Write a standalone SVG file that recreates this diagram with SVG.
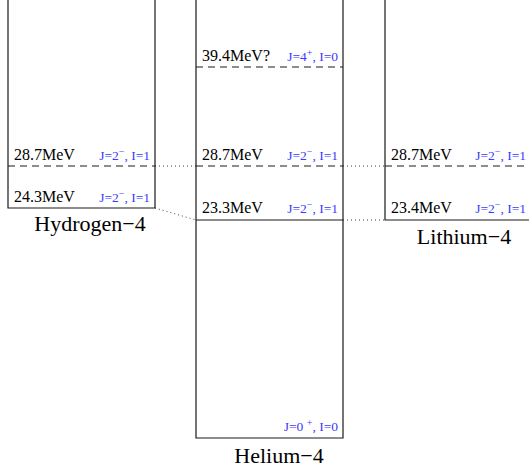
<svg xmlns="http://www.w3.org/2000/svg" width="529" height="468" viewBox="0 0 529 468">
<style>
.box{stroke:#1a1a1a;stroke-width:1.2;fill:none}
.dash{stroke:#1a1a1a;stroke-width:1.2;stroke-dasharray:7 5;fill:none}
.dot{stroke:#444;stroke-width:1;stroke-dasharray:1 3;fill:none}
.e{font-family:"Liberation Serif",serif;font-size:16px;fill:#000}
.q{font-family:"Liberation Serif",serif;font-size:13.5px;fill:#3a3aff;text-anchor:end}
.s{font-size:10px}
.lbl{font-family:"Liberation Serif",serif;font-size:22px;fill:#000;text-anchor:middle}
</style>
<rect width="529" height="468" fill="#fff"/>
<g id="connectors">
<line class="dot" x1="155" y1="166" x2="196" y2="166"/>
<line class="dot" x1="343" y1="166" x2="385" y2="166"/>
<line class="dot" x1="155" y1="208" x2="196" y2="220"/>
<line class="dot" x1="343" y1="220" x2="385" y2="220"/>
</g>
<g id="hydrogen">
<path class="box" d="M8,0 V208 H155 V0"/>
<line class="dash" x1="8" y1="166" x2="155" y2="166"/>
<text class="e" x="14" y="160">28.7MeV</text>
<text class="q" x="150" y="160">J=2<tspan class="s" dy="-5">−</tspan><tspan dy="5">, I=1</tspan></text>
<text class="e" x="14" y="202">24.3MeV</text>
<text class="q" x="150" y="202">J=2<tspan class="s" dy="-5">−</tspan><tspan dy="5">, I=1</tspan></text>
<text class="lbl" x="90" y="231">Hydrogen−4</text>
</g>
<g id="helium">
<path class="box" d="M196,0 V438 H343 V0"/>
<line class="box" x1="196" y1="220" x2="343" y2="220"/>
<line class="dash" x1="196" y1="67" x2="343" y2="67"/>
<line class="dash" x1="196" y1="166" x2="343" y2="166"/>
<text class="e" x="202" y="61">39.4MeV?</text>
<text class="q" x="338" y="61">J=4<tspan class="s" dy="-5">+</tspan><tspan dy="5">, I=0</tspan></text>
<text class="e" x="202" y="160">28.7MeV</text>
<text class="q" x="338" y="160">J=2<tspan class="s" dy="-5">−</tspan><tspan dy="5">, I=1</tspan></text>
<text class="e" x="202" y="213">23.3MeV</text>
<text class="q" x="338" y="213">J=2<tspan class="s" dy="-5">−</tspan><tspan dy="5">, I=1</tspan></text>
<text class="q" x="338" y="431">J=0 <tspan class="s" dy="-5">+</tspan><tspan dy="5">, I=0</tspan></text>
<text class="lbl" x="279" y="463">Helium−4</text>
</g>
<g id="lithium">
<path class="box" d="M385,0 V220 H529"/>
<line class="dash" x1="385" y1="166" x2="529" y2="166"/>
<text class="e" x="391" y="160">28.7MeV</text>
<text class="q" x="526" y="160">J=2<tspan class="s" dy="-5">−</tspan><tspan dy="5">, I=1</tspan></text>
<text class="e" x="391" y="213">23.4MeV</text>
<text class="q" x="526" y="213">J=2<tspan class="s" dy="-5">−</tspan><tspan dy="5">, I=1</tspan></text>
<text class="lbl" x="464" y="244">Lithium−4</text>
</g>
</svg>
